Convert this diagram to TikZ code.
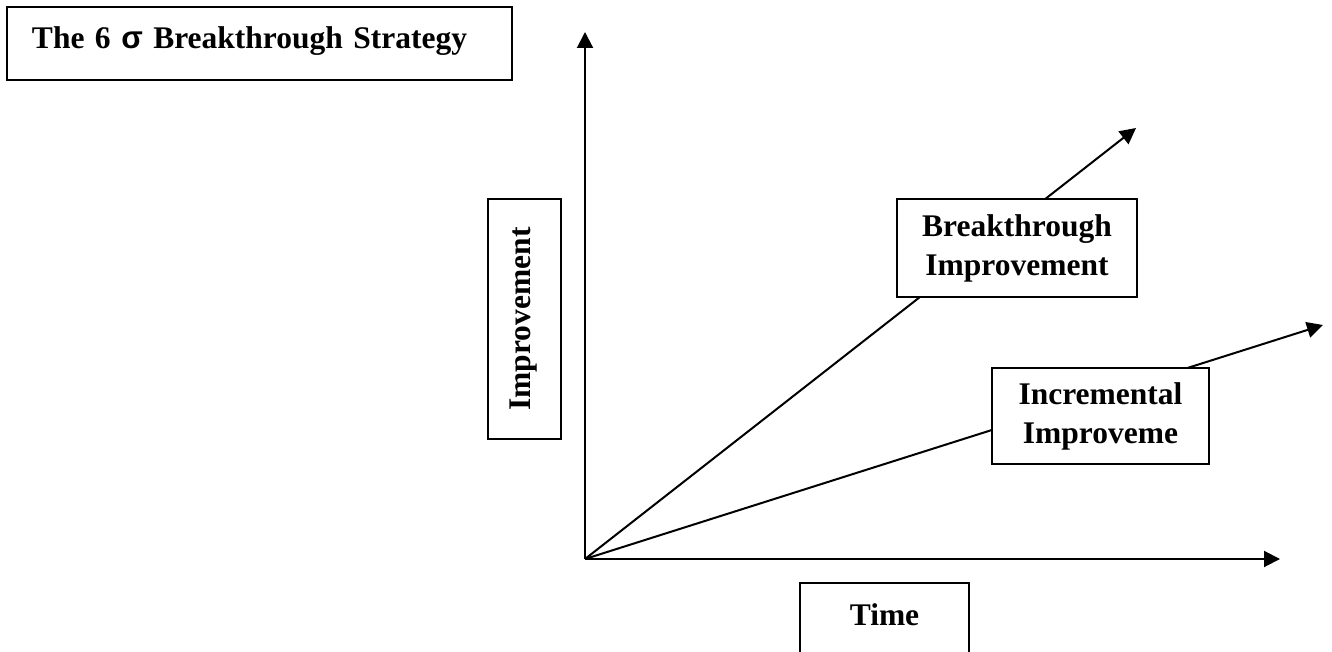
\documentclass[tikz,border=0pt]{standalone}
\usepackage{fontspec}
\setmainfont{Liberation Serif}
\newfontfamily\sigmafont{Liberation Sans}
\usetikzlibrary{arrows.meta}
\tikzset{
>={Triangle[length=8pt, width=8pt]}, % solid triangle heads on all arrows
labelbox/.style={draw, fill=white, outer sep=0pt, align=center, font=\fontsize{15.75}{19.5}\selectfont\bfseries}, % boxed bold labels
onelinebox/.style={labelbox, text height=11pt, text depth=5.5pt, inner ysep=10pt}, % text sits high in the box
}
\begin{document}
\begin{tikzpicture}[x=0.5pt, y=-0.5pt, line width=1pt]
    \useasboundingbox (0,0) rectangle (1332,652);
    \coordinate (O) at (585,559);
    \coordinate (ytip) at (585,32);
    \coordinate (xtip) at (1280,559);
    \coordinate (btip) at (1136,128);
    \coordinate (itip) at (1323,325);
    \draw[->] (O) -- (ytip);
    \draw[->] (O) -- (xtip);
    \draw[->] (O) -- (btip);
    \draw[->] (O) -- (itip);
    \node[onelinebox, anchor=north west, align=left, text width=227.5pt, inner xsep=12.5pt] (title) at (7,7) {The 6 {\sigmafont σ} Breakthrough Strategy};
    \node[onelinebox, rotate=90, minimum width=120pt] (improvement) at (524.5,319) {Improvement};
    \node[onelinebox, anchor=north, minimum width=84.5pt] (time) at (884.5,583) {Time};
    \node[labelbox, minimum width=120pt, minimum height=49pt] (breakthrough) at (1017,248) {Breakthrough\\Improvement};
    \node[labelbox, minimum width=108.5pt, minimum height=48pt] (incremental) at (1100.5,416) {Incremental\\Improveme};
  \end{tikzpicture}
\end{document}
